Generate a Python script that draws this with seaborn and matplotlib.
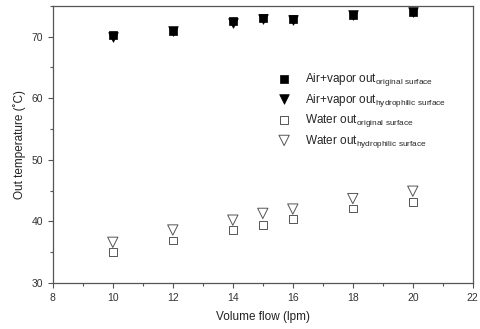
import matplotlib
matplotlib.use("Agg")
import matplotlib.pyplot as plt
import seaborn as sns
from matplotlib.ticker import MultipleLocator

flow = [10, 12, 14, 15, 16, 18, 20]
air_orig = [70.2, 71.0, 72.5, 73.0, 72.8, 73.6, 74.0]
air_hydro = [70.0, 70.9, 72.2, 72.8, 72.7, 73.5, 74.0]
water_orig = [35.0, 36.9, 38.6, 39.4, 40.4, 42.1, 43.1]
water_hydro = [36.6, 38.6, 40.2, 41.3, 42.0, 43.7, 44.9]

labels = [
    r"Air+vapor out$_{\mathrm{original\ surface}}$",
    r"Air+vapor out$_{\mathrm{hydrophilic\ surface}}$",
    r"Water out$_{\mathrm{original\ surface}}$",
    r"Water out$_{\mathrm{hydrophilic\ surface}}$",
]

sns.set_style("ticks")
plt.rcParams["font.family"] = ["Liberation Sans", "DejaVu Sans"]
plt.rcParams["mathtext.fontset"] = "custom"
plt.rcParams["mathtext.rm"] = "Liberation Sans"

fig = plt.figure(figsize=(4.8, 3.29), dpi=100)
ax = fig.add_axes([0.110, 0.140, 0.875, 0.842])

grey = "#555555"
sns.scatterplot(x=flow, y=air_orig, marker="s", s=38, color="black",
                edgecolor="black", linewidth=0.5, ax=ax, label=labels[0])
sns.scatterplot(x=flow, y=air_hydro, marker="v", s=48, color="black",
                edgecolor="black", linewidth=0.5, ax=ax, label=labels[1])
sns.scatterplot(x=flow, y=water_orig, marker="s", s=32, facecolors="none",
                edgecolor=grey, linewidth=0.7, ax=ax, label=labels[2])
sns.scatterplot(x=flow, y=water_hydro, marker="v", s=55, facecolors="none",
                edgecolor=grey, linewidth=0.7, ax=ax, label=labels[3])

ax.set_xlim(8, 22)
ax.set_ylim(30, 75)
ax.xaxis.set_major_locator(MultipleLocator(2))
ax.xaxis.set_minor_locator(MultipleLocator(1))
ax.yaxis.set_major_locator(MultipleLocator(10))
ax.yaxis.set_minor_locator(MultipleLocator(5))
ax.tick_params(which="major", length=3.5, width=0.8, colors="#555555",
               labelsize=7.5, labelcolor="#333333")
ax.tick_params(which="minor", length=2, width=0.8, colors="#555555")
for sp in ax.spines.values():
    sp.set_color("#555555")
    sp.set_linewidth(0.9)

ax.set_xlabel("Volume flow (lpm)", fontsize=8.5, color="#222222", labelpad=6)
ax.set_ylabel("Out temperature (\u02daC)", fontsize=8.5, color="#222222", labelpad=4)

ax.legend(loc="upper left", bbox_to_anchor=(0.503, 0.795), frameon=False,
          fontsize=8.5, labelspacing=0.3, handletextpad=0.8, borderpad=0.2)

fig.savefig("out.png", dpi=100)
